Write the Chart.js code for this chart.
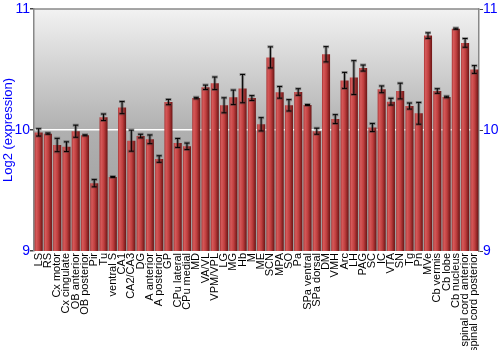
<!DOCTYPE html>
<html>
<head>
<meta charset="utf-8">
<script src="https://cdn.jsdelivr.net/npm/chart.js@4"></script>
<style>
  html, body { margin: 0; padding: 0; background: #fff; }
  #wrap { width: 500px; height: 350px; }
</style>
</head>
<body>
<div id="wrap"><canvas id="myChart"></canvas></div>
<script>
// regions
const regions = ['LS', 'RS', 'Cx motor', 'Cx cingulate', 'OB anterior', 'OB posterior', 'Pir', 'Tu',
    'ventral S', 'CA1', 'CA2/CA3', 'DG', 'A anterior', 'A posterior', 'GP', 'CPu lateral', 'CPu medial',
    'MD', 'VA/VL', 'VPM/VPL', 'LG', 'MG', 'Hb', 'M', 'ME', 'SCN', 'MPA', 'SO', 'Pa', 'SPa ventral',
    'SPa dorsal', 'DM', 'VMH', 'Arc', 'LH', 'PAG', 'SC', 'IC', 'VTA', 'SN', 'Tg', 'Pn', 'MVe',
    'Cb vermis', 'Cb lobe', 'Cb nucleus', 'spinal cord anterior', 'spinal cord posterior'];

// log2 expression per region
const expression = [9.98, 9.97, 9.876, 9.862, 9.99, 9.956, 9.56, 10.105,
    9.612, 10.185, 9.912, 9.95, 9.923, 9.76, 10.231, 9.893, 9.865,
    10.264, 10.353, 10.386, 10.204, 10.27, 10.342, 10.264, 10.047, 10.6, 10.311, 10.204, 10.314, 10.207,
    9.99, 10.626, 10.09, 10.41, 10.433, 10.512, 10.02, 10.336, 10.234, 10.322, 10.198, 10.138, 10.78,
    10.322, 10.273, 10.837, 10.72, 10.5];

// +/- error
const errors = [0.03, 0.005, 0.055, 0.04, 0.05, 0.004, 0.03, 0.027,
    0.004, 0.05, 0.087, 0.015, 0.036, 0.027, 0.022, 0.037, 0.027,
    0.006, 0.018, 0.052, 0.062, 0.06, 0.117, 0.02, 0.055, 0.087, 0.048, 0.047, 0.027, 0.004,
    0.025, 0.063, 0.037, 0.066, 0.14, 0.025, 0.033, 0.028, 0.028, 0.065, 0.025, 0.09, 0.023,
    0.019, 0.006, 0.005, 0.036, 0.032];

const yTicks = [9, 10, 11];

// gray gradient behind the plot + top frame line
const plotBackground = {
    id: 'plotBackground',
    beforeDraw(chart) {
        const { ctx, chartArea: a } = chart;
        const g = ctx.createLinearGradient(0, a.top, 0, a.bottom);
        g.addColorStop(0, '#f2f2f2');
        g.addColorStop(0.5, '#b0b0b0');
        g.addColorStop(1, '#9a9a9a');
        ctx.save();
        ctx.fillStyle = g;
        ctx.fillRect(a.left, a.top, a.right - a.left, a.bottom - a.top);
        ctx.restore();
    },
    afterDraw(chart) {
        const { ctx, chartArea: a } = chart;
        ctx.save();
        ctx.strokeStyle = '#888';
        ctx.lineWidth = 1.5;
        ctx.beginPath();
        ctx.moveTo(a.left, a.top);
        ctx.lineTo(a.right, a.top);
        ctx.stroke();
        ctx.restore();
    }
};

// error whiskers
const errorBars = {
    id: 'errorBars',
    afterDatasetsDraw(chart) {
        const { ctx } = chart;
        const y = chart.scales.y;
        const meta = chart.getDatasetMeta(0);
        ctx.save();
        meta.data.forEach((bar, i) => {
            const x = bar.x;
            const hi = y.getPixelForValue(expression[i] + errors[i]);
            const lo = y.getPixelForValue(expression[i] - errors[i]);
            // soft shadow
            ctx.strokeStyle = 'rgba(60,60,60,0.45)';
            ctx.lineWidth = 3;
            ctx.beginPath();
            ctx.moveTo(x, hi); ctx.lineTo(x, lo);
            ctx.moveTo(x - 3, hi); ctx.lineTo(x + 3, hi);
            ctx.moveTo(x - 3, lo); ctx.lineTo(x + 3, lo);
            ctx.stroke();
            ctx.strokeStyle = '#000';
            ctx.lineWidth = 1;
            ctx.beginPath();
            ctx.moveTo(x, hi); ctx.lineTo(x, lo);
            ctx.moveTo(x - 2.5, hi); ctx.lineTo(x + 2.5, hi);
            ctx.moveTo(x - 2.5, lo); ctx.lineTo(x + 2.5, lo);
            ctx.stroke();
        });
        ctx.restore();
    }
};

function barFill(context) {
    const chart = context.chart;
    if (!chart.chartArea || !chart.scales.x) return '#b03535';
    const xs = chart.scales.x;
    const cx = xs.getPixelForValue(context.dataIndex);
    const w = (xs.width / regions.length) * 0.87;
    const g = chart.ctx.createLinearGradient(cx - w / 2, 0, cx + w / 2, 0);
    g.addColorStop(0, '#a83434');
    g.addColorStop(0.2, '#d65a5a');
    g.addColorStop(0.55, '#bf3e3e');
    g.addColorStop(1, '#6a1414');
    return g;
}

const config = {
    type: 'bar',
    data: {
        labels: regions,
        datasets: [{
            label: 'Log2 (expression)',
            data: expression,
            backgroundColor: barFill,
            borderWidth: 0,
            barPercentage: 0.87,
            categoryPercentage: 1
        }]
    },
    options: {
        responsive: true,
        maintainAspectRatio: false,
        animation: false,
        layout: { padding: { top: 9, left: 0, right: 0, bottom: 0 } },
        plugins: {
            legend: { display: false },
            tooltip: { enabled: false }
        },
        scales: {
            x: {
                grid: { display: false, drawTicks: false },
                border: { display: false },
                ticks: {
                    autoSkip: false,
                    minRotation: 90,
                    maxRotation: 90,
                    padding: 2,
                    color: '#000',
                    font: { family: 'Liberation Sans, Arial', size: 11 }
                },
                afterFit(scale) { scale.height = 99; }
            },
            y: {
                position: 'left',
                min: 9,
                max: 11,
                afterBuildTicks(scale) { scale.ticks = yTicks.map(v => ({ value: v })); },
                grid: {
                    color: ctx => ctx.tick && ctx.tick.value === 10 ? '#ffffff' : 'rgba(0,0,0,0)',
                    lineWidth: 1.5,
                    tickColor: '#444',
                    tickLength: 4
                },
                border: { color: '#888', width: 1.5 },
                ticks: {
                    padding: 0,
                    color: '#0000ff',
                    font: { family: 'Liberation Sans, Arial', size: 14 }
                },
                title: {
                    display: true,
                    text: 'Log2 (expression)',
                    color: '#0000ff',
                    padding: { top: 1, bottom: 0 },
                    font: { family: 'Liberation Sans, Arial', size: 13 }
                },
                afterFit(scale) { scale.width = 34; }
            },
            y2: {
                position: 'right',
                min: 9,
                max: 11,
                afterBuildTicks(scale) { scale.ticks = yTicks.map(v => ({ value: v })); },
                grid: {
                    drawOnChartArea: false,
                    tickColor: '#444',
                    tickLength: 4
                },
                border: { color: '#888', width: 1.5 },
                ticks: {
                    padding: 0,
                    color: '#0000ff',
                    font: { family: 'Liberation Sans, Arial', size: 14 }
                },
                afterFit(scale) { scale.width = 21; }
            }
        }
    },
    plugins: [plotBackground, errorBars]
};

const myChart = new Chart(document.getElementById('myChart').getContext('2d'), config);
</script>
</body>
</html>
